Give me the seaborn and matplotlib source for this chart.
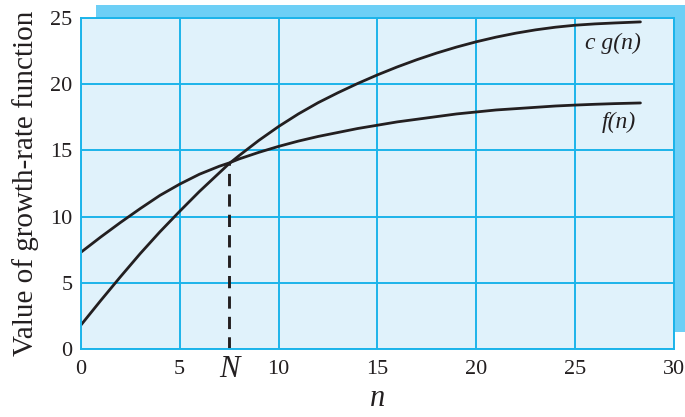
import matplotlib
matplotlib.use("Agg")
import matplotlib.pyplot as plt
import matplotlib.patches as mpatches
import pandas as pd
import seaborn as sns

# values
n_vals = [0, 1, 2, 3, 4, 5, 6, 7, 7.5, 8, 9, 10, 11, 12, 13, 14, 15, 16, 17, 18, 19, 20,
          21, 22, 23, 24, 25, 26, 27, 28.3]
cg_vals = [1.8, 3.65, 5.45, 7.2, 8.85, 10.4, 11.9, 13.3, 14.0, 14.6, 15.75, 16.8, 17.75, 18.6,
           19.35, 20.05, 20.7, 21.3, 21.85, 22.35, 22.8, 23.2, 23.55, 23.85, 24.1, 24.3, 24.45,
           24.55, 24.62, 24.7]
f_vals = [7.3, 8.45, 9.55, 10.6, 11.6, 12.45, 13.2, 13.8, 14.05, 14.35, 14.85, 15.3, 15.7, 16.05,
          16.35, 16.65, 16.9, 17.15, 17.35, 17.55, 17.75, 17.9, 18.05, 18.15, 18.25, 18.35, 18.42,
          18.48, 18.53, 18.58]
n_cross = 7.5
f_cross = 14.05
x_ticks = [0, 5, 10, 15, 20, 25, 30]
y_ticks = [0, 5, 10, 15, 20, 25]

GRID = "#1cb4ea"
BG = "#e0f2fb"
SHADOW = "#6dcff6"
INK = "#231f20"
SERIF = "Liberation Serif"

sns.set_style("whitegrid", {"axes.facecolor": BG, "grid.color": GRID,
                            "axes.edgecolor": GRID})
plt.rcParams["font.family"] = SERIF

df = pd.concat([
    pd.DataFrame({"n": n_vals, "value": cg_vals, "curve": "cg"}),
    pd.DataFrame({"n": n_vals, "value": f_vals, "curve": "f"}),
])

fig = plt.figure(figsize=(6.85, 4.17), dpi=100)
ax = fig.add_axes([0.118, 0.163, 0.866, 0.794])

# drop shadow behind the plot area
fig.patches.append(mpatches.Rectangle((0.140, 0.204), 0.9, 0.784, transform=fig.transFigure,
                                      facecolor=SHADOW, edgecolor="none", zorder=-1))

sns.lineplot(data=df, x="n", y="value", units="curve", estimator=None,
             color=INK, linewidth=2.0, ax=ax, legend=False)
ax.plot([n_cross, n_cross], [0, f_cross], color=INK, lw=2.1, dashes=(4.2, 2.8))

ax.set_xlim(0, 30)
ax.set_ylim(0, 25)
ax.set_xticks(x_ticks)
ax.set_yticks(y_ticks)
ax.set_xticks([n_cross], labels=["N"], minor=True)
ax.tick_params(axis="x", which="minor", length=0, labelsize=22, pad=4, colors=INK)
ax.tick_params(axis="both", which="major", length=0, labelsize=16, colors=INK, pad=6)
ax.tick_params(axis="x", which="major", pad=8)
for lab in ax.get_xticklabels(minor=True):
    lab.set_fontstyle("italic")
ax.grid(True, which="major", color=GRID, lw=1.4)
ax.grid(False, which="minor")
for sp in ax.spines.values():
    sp.set_color(GRID)
    sp.set_linewidth(1.4)

ax.set_xlabel("n", fontsize=22, fontstyle="italic", color=INK, labelpad=0)
ax.set_ylabel("Value of growth-rate function", fontsize=21, color=INK, labelpad=8)

ax.text(26.9, 23.1, "c g(n)", fontsize=17, fontstyle="italic", color=INK,
        ha="center", va="center")
ax.text(27.2, 17.1, "f(n)", fontsize=17, fontstyle="italic", color=INK,
        ha="center", va="center")

fig.savefig("out.png", dpi=100)
